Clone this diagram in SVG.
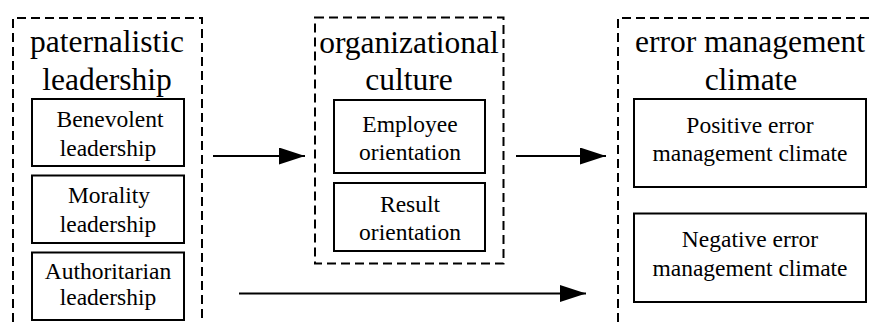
<svg xmlns="http://www.w3.org/2000/svg" width="874" height="322" viewBox="0 0 874 322">
  <style>
    .group { fill: none; stroke: #000; stroke-width: 2; stroke-dasharray: 9 5; }
    .box { fill: #fff; stroke: #000; stroke-width: 2; }
    .title { font-size: 31.5px; fill: #000; text-anchor: middle; }
    .label { font-size: 23.5px; fill: #000; text-anchor: middle; }
    .link { fill: none; stroke: #000; stroke-width: 2; }
  </style>
  <defs>
    <marker id="arrow" markerUnits="userSpaceOnUse" markerWidth="26" markerHeight="17" refX="26" refY="8.5" orient="auto">
      <path d="M0,0 L26,8.5 L0,17 Z" fill="#000"/>
    </marker>
  </defs>
  <rect width="874" height="322" fill="#fff"/>

  <g font-family="Liberation Serif, Tinos, Times New Roman, DejaVu Serif, serif">
  <!-- paternalistic leadership -->
  <g id="paternalistic-leadership">
    <path class="group" d="M13,322 V18 H202 V322"/>
    <text class="title" x="107" y="52">paternalistic</text>
    <text class="title" x="107" y="90">leadership</text>
  </g>
  <g id="benevolent-leadership">
    <rect class="box" x="32" y="99" width="152" height="67"/>
    <text class="label" x="110" y="126.5">Benevolent</text>
    <text class="label" x="108" y="156">leadership</text>
  </g>
  <g id="morality-leadership">
    <rect class="box" x="32" y="175.5" width="152" height="67.5"/>
    <text class="label" x="109" y="203">Morality</text>
    <text class="label" x="108" y="231.5">leadership</text>
  </g>
  <g id="authoritarian-leadership">
    <rect class="box" x="32" y="252.5" width="152" height="67.5"/>
    <text class="label" x="108" y="278.5">Authoritarian</text>
    <text class="label" x="108" y="305">leadership</text>
  </g>

  <!-- organizational culture -->
  <g id="organizational-culture">
    <rect class="group" x="315" y="17.5" width="188.5" height="246"/>
    <text class="title" x="409" y="52.5">organizational</text>
    <text class="title" x="409" y="90">culture</text>
  </g>
  <g id="employee-orientation">
    <rect class="box" x="334" y="100" width="151" height="73"/>
    <text class="label" x="410" y="131.5">Employee</text>
    <text class="label" x="410" y="159.5">orientation</text>
  </g>
  <g id="result-orientation">
    <rect class="box" x="334" y="183" width="151" height="68"/>
    <text class="label" x="410" y="211.5">Result</text>
    <text class="label" x="410" y="240">orientation</text>
  </g>

  <!-- error management climate -->
  <g id="error-management-climate">
    <path class="group" d="M618,322 V18 H874"/>
    <text class="title" x="750" y="52">error management</text>
    <text class="title" x="751" y="90">climate</text>
  </g>
  <g id="positive-climate">
    <rect class="box" x="634" y="99" width="232" height="88"/>
    <text class="label" x="750" y="132.5">Positive error</text>
    <text class="label" x="750" y="161">management climate</text>
  </g>
  <g id="negative-climate">
    <rect class="box" x="634" y="213.5" width="232" height="88.5"/>
    <text class="label" x="750" y="247">Negative error</text>
    <text class="label" x="750" y="275.5">management climate</text>
  </g>
  </g>

  <!-- connectors -->
  <g id="connectors">
    <line class="link" x1="213" y1="156" x2="305" y2="156" marker-end="url(#arrow)"/>
    <line class="link" x1="516" y1="156" x2="606" y2="156" marker-end="url(#arrow)"/>
    <line class="link" x1="239" y1="293.5" x2="586" y2="293.5" marker-end="url(#arrow)"/>
  </g>
</svg>
